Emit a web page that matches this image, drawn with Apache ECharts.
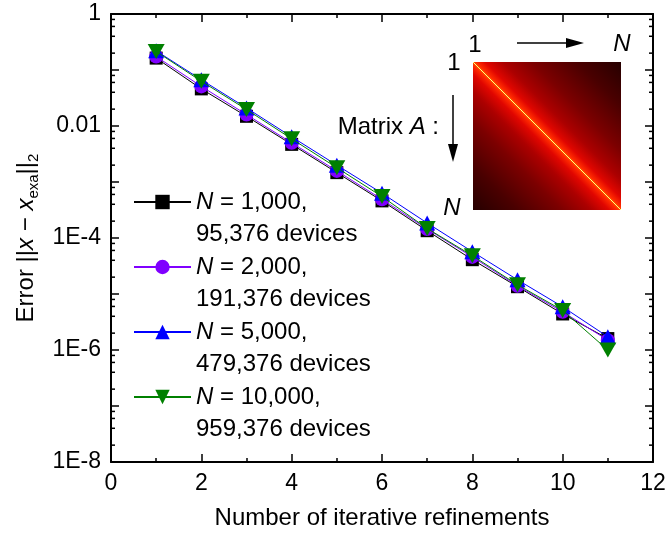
<!DOCTYPE html>
<html>
<head>
<meta charset="utf-8">
<script src="https://cdn.jsdelivr.net/npm/echarts@6/dist/echarts.min.js"></script>
<style>html,body{margin:0;padding:0;background:#fff}#c{width:669px;height:535px}</style>
</head>
<body>
<div id="c"></div>
<script>
// ---- data ----
const iterations = [1, 2, 3, 4, 5, 6, 7, 8, 9, 10, 11];
const errN1000  = [0.163, 0.046, 0.0149, 0.0047, 0.00147, 0.00046, 1.35e-4, 4.1e-5, 1.35e-5, 4.4e-6, 1.6e-6];
const errN2000  = [0.174, 0.051, 0.0160, 0.0050, 0.00158, 0.00049, 1.45e-4, 4.6e-5, 1.40e-5, 4.8e-6, 1.5e-6];
const errN5000  = [0.220, 0.067, 0.0210, 0.0064, 0.00200, 0.00063, 1.85e-4, 5.7e-5, 1.79e-5, 5.9e-6, 1.72e-6];
const errN10000 = [0.214, 0.063, 0.0197, 0.0059, 0.00180, 0.00055, 1.48e-4, 4.84e-5, 1.46e-5, 5.1e-6, 1.0e-6];
const nLabels = ['1,000', '2,000', '5,000', '10,000'];
const deviceLabels = ['95,376', '191,376', '479,376', '959,376'];
const xTicks = [0, 2, 4, 6, 8, 10, 12];
const yLabelValues = [1, 0.01, 1e-4, 1e-6, 1e-8];
const yLabelTexts = ['1', '0.01', '1E-4', '1E-6', '1E-8'];

// ---- chart ----
const FONT = 'Liberation Sans, Arial, sans-serif';
const TICK = '#000';
const colors = ['#000000', '#8000ff', '#0000ff', '#008000'];
const symbols = ['rect', 'circle', 'triangle', 'path://M0,0L2,0L1,2Z'];
const sizes = [13, 14, [16, 15], [17, 15]];
const allData = [errN1000, errN2000, errN5000, errN10000];
const names = nLabels.map((n, i) => 'N = ' + n + ', ' + deviceLabels[i] + ' devices');

const minorTickValues = [];
for (let e = -8; e < 0; e++) for (const m of [2, 4, 6, 8]) minorTickValues.push(m * Math.pow(10, e));

const tickStyle = { lineStyle: { color: TICK, width: 1.5 } };
const lineStyle = { lineStyle: { color: '#000', width: 2 } };

function xAxisDef(pos, showLabel) {
  return {
    type: 'value', position: pos, min: 0, max: 12, interval: 2,
    axisLine: Object.assign({ show: true, onZero: false }, lineStyle),
    axisTick: Object.assign({ show: true, inside: true, length: 8 }, tickStyle),
    minorTick: Object.assign({ show: true, splitNumber: 2, length: 4 }, tickStyle),
    axisLabel: {
      show: showLabel, fontSize: 23, color: '#000', margin: 10, fontFamily: FONT,
      formatter: v => { const i = xTicks.indexOf(v); return i >= 0 ? String(xTicks[i]) : ''; }
    },
    splitLine: { show: false }
  };
}
function yAxisDef(pos, showLabel) {
  return {
    type: 'log', logBase: 10, position: pos, min: 1e-8, max: 1,
    axisLine: Object.assign({ show: true, onZero: false }, lineStyle),
    axisTick: Object.assign({ show: true, inside: true, length: 8 }, tickStyle),
    axisLabel: {
      show: showLabel, fontSize: 23, color: '#000', margin: 10, fontFamily: FONT,
      formatter: v => {
        const e = Math.round(Math.log10(v));
        const i = yLabelValues.findIndex(t => Math.round(Math.log10(t)) === e);
        return i >= 0 ? yLabelTexts[i] : '';
      }
    },
    splitLine: { show: false }, minorTick: { show: false }
  };
}

const xMain = xAxisDef('bottom', true);
xMain.name = 'Number of iterative refinements';
xMain.nameLocation = 'middle';
xMain.nameGap = 44;
xMain.nameTextStyle = { fontSize: 24, color: '#000', fontFamily: FONT };

const yMain = yAxisDef('left', true);
yMain.name = '{a|Error ||}{i|x}{a| \u2212 }{i|x}{s|exa}{a|||}{s|2}';
yMain.nameLocation = 'middle';
yMain.nameGap = 70;
yMain.nameTextStyle = {
  color: '#000', fontFamily: FONT,
  rich: {
    a: { fontSize: 24, lineHeight: 30, fontFamily: FONT, color: '#000' },
    i: { fontSize: 24, lineHeight: 30, fontFamily: FONT, fontStyle: 'italic', color: '#000' },
    s: { fontSize: 15, lineHeight: 12, fontFamily: FONT, verticalAlign: 'bottom', color: '#000' }
  }
};

const seriesList = allData.map((d, i) => ({
  name: names[i], type: 'line',
  data: iterations.map((x, k) => [x, d[k]]),
  symbol: symbols[i], symbolSize: sizes[i],
  itemStyle: { color: colors[i] },
  lineStyle: { color: colors[i], width: 1 },
  z: 2 + i
}));
// minor ticks (2,4,6,8 x 10^n) on the left and right frame sides of the log axis
seriesList.push({
  type: 'custom', clip: false, silent: true,
  data: minorTickValues.map(v => [0, v]),
  encode: { x: 0, y: 1 },
  renderItem: (params, api) => {
    const l = api.coord([0, api.value(1)]);
    const r = api.coord([12, api.value(1)]);
    return {
      type: 'group', children: [
        { type: 'line', shape: { x1: l[0], y1: l[1], x2: l[0] + 4, y2: l[1] }, style: { stroke: TICK, lineWidth: 1.5 } },
        { type: 'line', shape: { x1: r[0], y1: r[1], x2: r[0] - 4, y2: r[1] }, style: { stroke: TICK, lineWidth: 1.5 } }
      ]
    };
  }
});

const option = {
  animation: false,
  backgroundColor: '#fff',
  grid: { left: 111, right: 16, top: 14, bottom: 71, containLabel: false },
  xAxis: [xMain, xAxisDef('top', false)],
  yAxis: [yMain, yAxisDef('right', false)],
  legend: {
    orient: 'vertical', left: 128, top: 149,
    itemWidth: 57, itemHeight: 18, itemGap: -31,
    data: names,
    formatter: name => {
      const i = names.indexOf(name);
      return '{e| }\n{n|N} = ' + nLabels[i] + ',\n' + deviceLabels[i] + ' devices';
    },
    textStyle: {
      fontSize: 24, lineHeight: 32, color: '#000', fontFamily: FONT,
      rich: {
        e: { fontSize: 24, lineHeight: 32 },
        n: { fontSize: 24, lineHeight: 32, fontStyle: 'italic', fontFamily: FONT, color: '#000' }
      }
    }
  },
  series: seriesList,
  graphic: [
    {
      type: 'rect', z: 10,
      shape: { x: 473, y: 62, width: 148, height: 148 },
      style: {
        fill: new echarts.graphic.LinearGradient(1, 0, 0, 1, [
          { offset: 0, color: '#260000' },
          { offset: 0.15, color: '#4a0000' },
          { offset: 0.3, color: '#7c0000' },
          { offset: 0.4, color: '#ac0000' },
          { offset: 0.46, color: '#e00600' },
          { offset: 0.49, color: '#ff2a00' },
          { offset: 0.5, color: '#ff5a00' },
          { offset: 0.51, color: '#ff2a00' },
          { offset: 0.54, color: '#e00600' },
          { offset: 0.6, color: '#ac0000' },
          { offset: 0.7, color: '#7c0000' },
          { offset: 0.85, color: '#4a0000' },
          { offset: 1, color: '#260000' }
        ])
      }
    },
    { type: 'line', z: 11, shape: { x1: 473, y1: 62, x2: 621, y2: 210 }, style: { stroke: '#ffff80', lineWidth: 1 } },
    { type: 'line', z: 11, shape: { x1: 517, y1: 43, x2: 570, y2: 43 }, style: { stroke: '#000', lineWidth: 1.5 } },
    { type: 'polygon', z: 11, shape: { points: [[566, 38], [584, 43], [566, 48]] }, style: { fill: '#000' } },
    { type: 'line', z: 11, shape: { x1: 453, y1: 95, x2: 453, y2: 148 }, style: { stroke: '#000', lineWidth: 1.5 } },
    { type: 'polygon', z: 11, shape: { points: [[448, 144], [453, 162], [458, 144]] }, style: { fill: '#000' } },
    { type: 'text', z: 11, x: 475, y: 45, style: { text: '1', fontSize: 24, fontFamily: FONT, fill: '#000', align: 'center', verticalAlign: 'middle' } },
    { type: 'text', z: 11, x: 622, y: 44, style: { text: 'N', fontSize: 24, fontStyle: 'italic', fontFamily: FONT, fill: '#000', align: 'center', verticalAlign: 'middle' } },
    { type: 'text', z: 11, x: 454, y: 63, style: { text: '1', fontSize: 24, fontFamily: FONT, fill: '#000', align: 'center', verticalAlign: 'middle' } },
    { type: 'text', z: 11, x: 452, y: 208, style: { text: 'N', fontSize: 24, fontStyle: 'italic', fontFamily: FONT, fill: '#000', align: 'center', verticalAlign: 'middle' } },
    { type: 'text', z: 11, x: 439, y: 127, style: { text: '{a|Matrix }{i|A}{a| :}', fontSize: 24, fontFamily: FONT, fill: '#000', align: 'right', verticalAlign: 'middle',
      rich: { a: { fontSize: 24, fontFamily: FONT, fill: '#000' }, i: { fontSize: 24, fontFamily: FONT, fontStyle: 'italic', fill: '#000' } } } }
  ]
};
const chart = echarts.init(document.getElementById('c'), null, { renderer: 'canvas' });
chart.setOption(option);
</script>
</body>
</html>
